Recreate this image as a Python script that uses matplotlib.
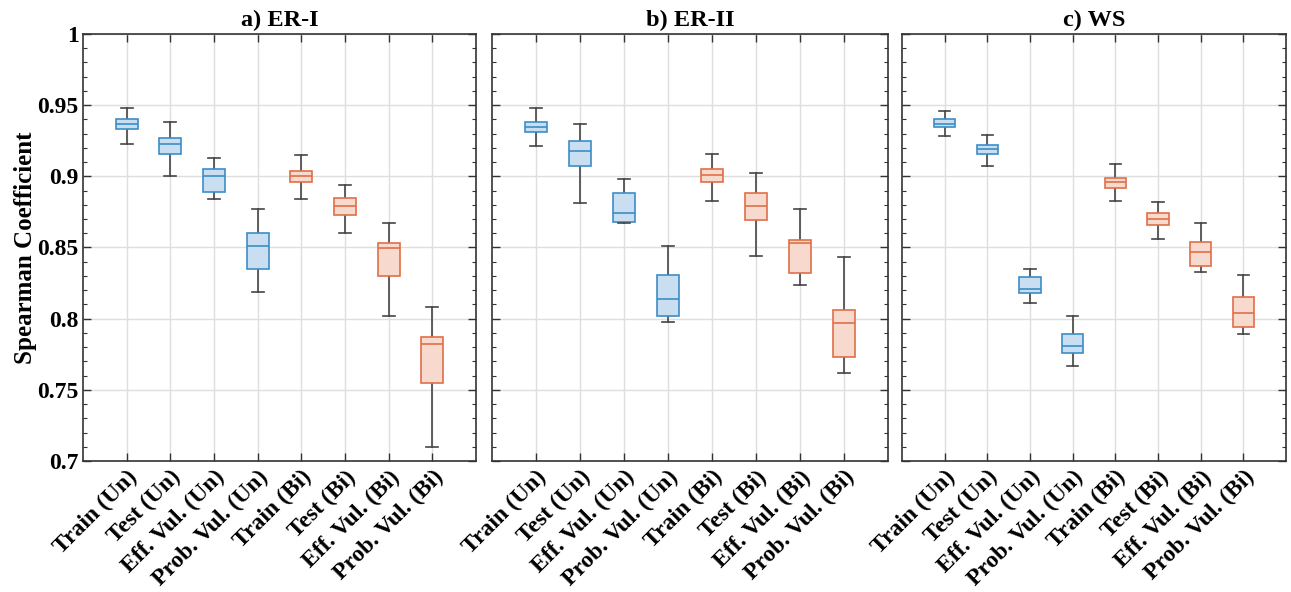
import matplotlib
matplotlib.use("Agg")
import matplotlib.pyplot as plt
from matplotlib.ticker import MultipleLocator, FuncFormatter

categories = ["Train (Un)", "Test (Un)", "Eff. Vul. (Un)", "Prob. Vul. (Un)",
              "Train (Bi)", "Test (Bi)", "Eff. Vul. (Bi)", "Prob. Vul. (Bi)"]
titles = ["a) ER-I", "b) ER-II", "c) WS"]

# per panel: whisker low, Q1, median, Q3, whisker high
er1_low = [0.923, 0.900, 0.884, 0.819, 0.884, 0.860, 0.802, 0.710]
er1_q1  = [0.933, 0.916, 0.889, 0.835, 0.896, 0.873, 0.830, 0.755]
er1_med = [0.937, 0.923, 0.900, 0.851, 0.900, 0.879, 0.850, 0.782]
er1_q3  = [0.940, 0.927, 0.905, 0.860, 0.904, 0.885, 0.853, 0.787]
er1_high= [0.948, 0.938, 0.913, 0.877, 0.915, 0.894, 0.867, 0.808]

er2_low = [0.921, 0.881, 0.867, 0.798, 0.883, 0.844, 0.824, 0.762]
er2_q1  = [0.931, 0.907, 0.868, 0.802, 0.896, 0.869, 0.832, 0.773]
er2_med = [0.935, 0.918, 0.874, 0.814, 0.901, 0.879, 0.853, 0.797]
er2_q3  = [0.938, 0.925, 0.888, 0.831, 0.905, 0.888, 0.855, 0.806]
er2_high= [0.948, 0.937, 0.898, 0.851, 0.916, 0.902, 0.877, 0.843]

ws_low  = [0.928, 0.907, 0.811, 0.767, 0.883, 0.856, 0.833, 0.789]
ws_q1   = [0.935, 0.916, 0.818, 0.776, 0.892, 0.866, 0.837, 0.794]
ws_med  = [0.937, 0.919, 0.821, 0.781, 0.896, 0.870, 0.847, 0.804]
ws_q3   = [0.940, 0.922, 0.829, 0.789, 0.899, 0.874, 0.854, 0.815]
ws_high = [0.946, 0.929, 0.835, 0.802, 0.909, 0.882, 0.867, 0.831]

panels = [
    (er1_low, er1_q1, er1_med, er1_q3, er1_high),
    (er2_low, er2_q1, er2_med, er2_q3, er2_high),
    (ws_low, ws_q1, ws_med, ws_q3, ws_high),
]

blue_edge = "#3C8DC6"
blue_fill = "#C9DFF1"
orange_edge = "#E07048"
orange_fill = "#F7DACD"
whisk_col = "#454545"

plt.rcParams['font.family'] = ['Liberation Serif', 'DejaVu Serif']
plt.rcParams['font.weight'] = 'bold'

fig = plt.figure(figsize=(12.91, 5.92), dpi=100)
lefts = [83, 492, 902]
rights = [476, 888, 1286]
top_px, bot_px = 34, 461
W, H = 1291, 592

for i, (lo, q1, med, q3, hi) in enumerate(panels):
    ax = fig.add_axes([lefts[i] / W, 1 - bot_px / H,
                       (rights[i] - lefts[i]) / W, (bot_px - top_px) / H])
    stats = []
    for j in range(len(categories)):
        stats.append(dict(whislo=lo[j], q1=q1[j], med=med[j], q3=q3[j],
                          whishi=hi[j], fliers=[]))
    positions = list(range(1, len(categories) + 1))
    res = ax.bxp(stats, positions=positions, widths=0.5, patch_artist=True,
                 showfliers=False, capwidths=0.27, zorder=3)
    for j, box in enumerate(res['boxes']):
        edge = blue_edge if j < 4 else orange_edge
        fill = blue_fill if j < 4 else orange_fill
        box.set_facecolor(fill)
        box.set_edgecolor(edge)
        box.set_linewidth(1.2)
        res['medians'][j].set_color(edge)
        res['medians'][j].set_linewidth(1.2)
    for w in res['whiskers']:
        w.set_color(whisk_col)
        w.set_linewidth(1.2)
        w.set_zorder(2)
    for c in res['caps']:
        c.set_color(whisk_col)
        c.set_linewidth(1.2)

    ax.set_xlim(0, 9)
    ax.set_ylim(0.7, 1.0)
    ax.yaxis.set_major_locator(MultipleLocator(0.05))
    ax.yaxis.set_minor_locator(MultipleLocator(0.01))
    ax.yaxis.set_major_formatter(FuncFormatter(lambda v, p: "%g" % round(v, 2)))
    ax.set_xticks(positions)
    ax.set_xticklabels(categories, rotation=45, ha='right', rotation_mode='anchor',
                       fontsize=17, fontweight='bold')
    ax.tick_params(axis='both', which='both', direction='in', top=True, right=True,
                   color='#333333')
    ax.tick_params(axis='both', which='major', length=6, width=1.0, labelsize=17, pad=4)
    ax.tick_params(axis='y', which='major', pad=3)
    ax.tick_params(axis='y', which='minor', length=3, width=0.8)
    ax.tick_params(axis='x', which='minor', bottom=False, top=False)
    ax.grid(True, which='major', color='#DEDEDE', linewidth=1.0, zorder=0)
    ax.set_axisbelow(True)
    for s in ax.spines.values():
        s.set_color('#333333')
        s.set_linewidth(1.2)
    ax.set_title(titles[i], fontsize=17.5, fontweight='bold', pad=6)
    if i == 0:
        ax.set_ylabel("Spearman Coefficient", fontsize=18, fontweight='bold', labelpad=0)
    else:
        ax.set_yticklabels([])

fig.savefig("out.png", dpi=100)
